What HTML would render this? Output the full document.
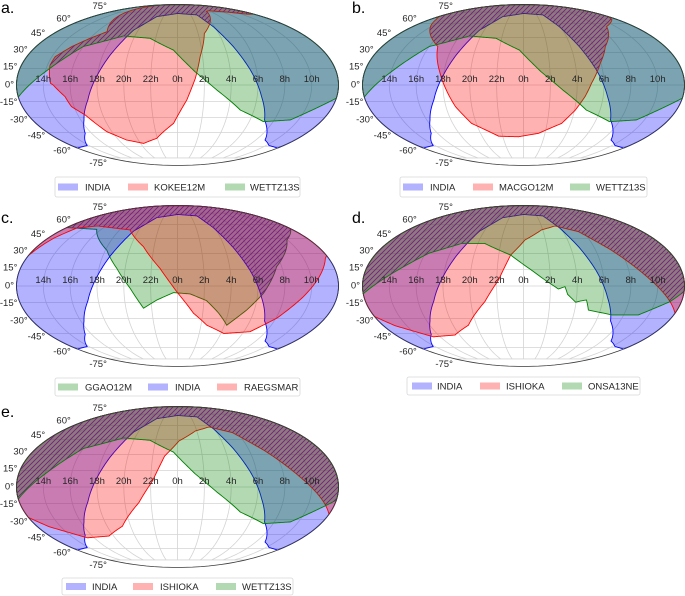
<!DOCTYPE html>
<html><head><meta charset="utf-8">
<style>
html,body{margin:0;padding:0;background:#fff;}
svg{display:block;font-family:"Liberation Sans",Arial,sans-serif;}
</style></head>
<body>
<svg id="fig" width="685" height="596" viewBox="0 0 685 596" xmlns="http://www.w3.org/2000/svg">
<defs>
<pattern id="hatch" patternUnits="userSpaceOnUse" width="5" height="5">
<path d="M-1,1 L1,-1 M0,5 L5,0 M4,6 L6,4" stroke="#7a1a8a" stroke-width="0.9"/>
</pattern>
</defs>
</svg>
<script>
// ---- data: tick labels ----
const hourTickLons = [-150,-120,-90,-60,-30,0,30,60,90,120,150];
const hourTickLabels = ['14h','16h','18h','20h','22h','0h','2h','4h','6h','8h','10h'];
const latTicks = [-75,-60,-45,-30,-15,0,15,30,45,60,75];
const latTickLabels = ['-75°','-60°','-45°','-30°','-15°','0°','15°','30°','45°','60°','75°'];

// ---- data: station visibility regions as [lon, lat] boundary points ----
const indiaRegion = [[-180,-62],[-180,90],[180,90],[180,-62],[155,-59],[134,-52.8],[108,-32.3],[95,-10.6],[83,13.6],[71,35.7],[58,56.6],[44,71],[0,73],[-44,68.7],[-67,52.8],[-81,27.7],[-91,7.6],[-102,-13.6],[-116,-32.3],[-129,-45.7],[-153,-59]];
const kokeeRegion = [[-142,1.5],[-147,18],[-146,26],[-134,36],[-120,44],[-105,51],[-124,66],[-140,80],[-150,90],[180,90],[180,72],[164,72],[130,75],[90,77],[80,76],[39,49],[27,26],[20,6],[10.6,-13.6],[-5,-35.7],[-31,-51],[-55,-56.6],[-78,-52.8],[-97,-44],[-111,-27.7],[-123,-19.8],[-127,-10.6],[-139,0]];
const wettzRegion = [[-180,-11],[-146,15],[-120,35.7],[-76,46.4],[-37.5,44],[-5,32.3],[20,12],[44,-4.5],[74,-23],[108,-34],[140,-32.3],[180,-12],[180,90],[-180,90]];
const macgoRegion = [[-180,69],[-168,65],[-109,35.7],[-95,12.1],[-88,-1.5],[-79,-19.7],[-66,-35.7],[-36,-48.7],[-7.5,-49.3],[21,-45.7],[48.5,-35.7],[61,-22.9],[69.5,-10.6],[76,1.5],[89,19.7],[104,35.7],[135,56.6],[170,65],[180,69],[180,90],[-180,90]];
const ggaoRegion = [[-180,56.6],[-127,54.6],[-88,33],[-69.5,16],[-53,-2],[-39.5,-20.3],[-23.4,-12.7],[-4.5,-6],[14.2,-7.2],[33,-13.3],[49,-25],[63,-36.5],[81,-22],[96.5,-6.6],[114,17.5],[149,43.3],[178,54.6],[180,56],[180,90],[-180,90]];
const raegsmarRegion = [[-180,28],[-172,45],[-162,56],[-135,58.5],[-74,54],[-43.6,36.6],[-20,16],[-1,-5],[19,-25],[37.5,-36.5],[64,-44.8],[98.5,-43],[121,-29.7],[142,-9.7],[176,25.4],[180,28],[180,90],[-180,90]];
const ishiokaRegion = [[-180,-28],[-165,-37],[-130,-48.3],[-96.5,-46.4],[-70.5,-36.5],[-44,-14.2],[-28,5.5],[-15.6,28.5],[2,43.3],[28,54],[53,58.5],[83,52.2],[110,33],[137,10],[167,-14.2],[180,-25],[180,90],[-180,90]];
const onsaRegion = [[-180,-7],[-146,13],[-116,30.2],[-81.5,39.8],[-51,39.8],[-15.6,28.5],[9,14.5],[24,5.5],[39,-2.7],[46.4,-0.6],[49.6,-7.6],[59.6,-14.8],[65,-13.6],[71.5,-12.7],[76,-22],[106,-26.6],[137.5,-26.6],[167,-14.2],[180,-5],[180,90],[-180,90]];

const COL = {blue:'#0000ff', red:'#ff0000', green:'#008000'};

const panels = [
 {key:'a', cx:177.5, cy:85, lx:1, ly:13, legend:{x:55,w:245,y:177,h:20},
  regions:[['INDIA',indiaRegion,'blue',58,85],['KOKEE12M',kokeeRegion,'red',128,154],['WETTZ13S',wettzRegion,'green',225,250]]},
 {key:'b', cx:523.5, cy:85, lx:352, ly:13, legend:{x:400,w:247,y:177,h:20},
  regions:[['INDIA',indiaRegion,'blue',403,430],['MACGO12M',macgoRegion,'red',473,499],['WETTZ13S',wettzRegion,'green',570,596]]},
 {key:'c', cx:177.5, cy:286, lx:1, ly:223, legend:{x:55,w:245,y:378,h:18},
  regions:[['GGAO12M',ggaoRegion,'green',58,85],['INDIA',indiaRegion,'blue',148,175],['RAEGSMAR',raegsmarRegion,'red',217,244]]},
 {key:'d', cx:523.5, cy:286, lx:352, ly:223, legend:{x:407,w:233,y:377,h:18},
  regions:[['INDIA',indiaRegion,'blue',412,437],['ISHIOKA',ishiokaRegion,'red',480,506],['ONSA13NE',onsaRegion,'green',562,588]]},
 {key:'e', cx:177.5, cy:487, lx:1, ly:417, legend:{x:62,w:231,y:578,h:17},
  regions:[['INDIA',indiaRegion,'blue',66,92],['ISHIOKA',ishiokaRegion,'red',133,160],['WETTZ13S',wettzRegion,'green',216,242]]}
];
const RX = 161, RY = 80.5;
const NS = 'http://www.w3.org/2000/svg';
const svg = document.getElementById('fig');
const defs = svg.querySelector('defs');

function mk(tag, attrs, parent){
  const e = document.createElementNS(NS, tag);
  for (const k in attrs) e.setAttribute(k, attrs[k]);
  if (parent) parent.appendChild(e);
  return e;
}
function theta(lat){
  if (Math.abs(lat) >= 89.999) return Math.sign(lat)*Math.PI/2;
  const phi = lat*Math.PI/180;
  let t = phi*2;
  for (let i=0;i<40;i++){
    const d = 1+Math.cos(t);
    if (d < 1e-9) break;
    const dt = (t+Math.sin(t)-Math.PI*Math.sin(phi))/d;
    t -= dt;
    if (Math.abs(dt) < 1e-10) break;
  }
  return t/2;
}
function proj(P, lon, lat){
  const th = theta(lat);
  return [P.cx + RX*(lon/180)*Math.cos(th), P.cy - RY*Math.sin(th)];
}
function pathFor(P, pts, closed){
  let d = '';
  const n = pts.length;
  const segs = closed ? n : n-1;
  for (let i=0;i<segs;i++){
    const a = pts[i], b = pts[(i+1)%n];
    const steps = Math.max(1, Math.ceil(Math.max(Math.abs(b[0]-a[0]), Math.abs(b[1]-a[1]))/1.5));
    for (let s=0;s<steps;s++){
      const f = s/steps;
      const p = proj(P, a[0]+(b[0]-a[0])*f, a[1]+(b[1]-a[1])*f);
      d += (d==='' ? 'M' : 'L') + p[0].toFixed(2) + ',' + p[1].toFixed(2);
    }
  }
  if (!closed){ const p = proj(P, pts[n-1][0], pts[n-1][1]); d += 'L'+p[0].toFixed(2)+','+p[1].toFixed(2); }
  return d + (closed ? 'Z' : '');
}
const outlinePts = [[-180,-90],[-180,90],[180,90],[180,-90]];

panels.forEach(P => {
  const g = mk('g', {}, svg);
  
  
  const ell = pathFor(P, outlinePts, true);
  const bg = mk('path', {d:ell, fill:'#ffffff', stroke:'none'}, g);
  
  
  const grid = mk('g', {stroke:'#d4d4d4', 'stroke-width':'0.8', fill:'none'}, g);
  
  
  latTicks.forEach(lat => {
    const l = mk('path', {d:pathFor(P, [[-180,lat],[180,lat]], false)}, grid);
    
    
  });
  hourTickLons.forEach(lon => {
    const l = mk('path', {d:pathFor(P, [[lon,-75],[lon,75]], false)}, grid);
    
    
  });
  const clipIds = [];
  P.regions.forEach((r, i) => {
    const d = pathFor(P, r[1], true);
    const path = mk('path', {d:d, fill:COL[r[2]], 'fill-opacity':'0.3', stroke:COL[r[2]], 'stroke-width':'0.9', 'stroke-linejoin':'round'}, g);
    
    
    const cp = mk('clipPath', {id:'clip-'+P.key+'-'+i}, defs);
    mk('path', {d:d}, cp);
    clipIds.push('clip-'+P.key+'-'+i);
  });
  const h1 = mk('g', {'clip-path':'url(#'+clipIds[0]+')'}, g);
  const h2 = mk('g', {'clip-path':'url(#'+clipIds[1]+')'}, h1);
  const hp = mk('path', {d:pathFor(P, P.regions[2][1], true), fill:'url(#hatch)', stroke:'none'}, h2);
  
  
  const ol = mk('path', {d:ell, fill:'none', stroke:'#3a3a3a', 'stroke-width':'0.8'}, g);
  
  
  hourTickLons.forEach((lon, i) => {
    const p = proj(P, lon, 0);
    const t = mk('text', {x:p[0].toFixed(1), y:(P.cy-3).toFixed(1), 'text-anchor':'middle', 'font-size':'9.5', fill:'#262626'}, g);
    t.textContent = hourTickLabels[i];
    
    
  });
  latTicks.forEach((lat, i) => {
    const p = proj(P, -180, lat);
    const v = (P.cy - p[1]) / RY;
    const yc = p[1] - 1 - 6*v;
    const t = mk('text', {x:(p[0]-2.5).toFixed(1), y:(yc+3.4).toFixed(1), 'text-anchor':'end', 'font-size':'9.5', fill:'#262626'}, g);
    t.textContent = latTickLabels[i];
    
    
  });
  const lt = mk('text', {x:P.lx, y:P.ly, 'font-size':'16', fill:'#000'}, g);
  lt.textContent = P.key + '.';
  
  
  const L = P.legend;
  const lg = mk('g', {}, g);
  
  
  mk('rect', {x:L.x, y:L.y, width:L.w, height:L.h, rx:2, fill:'#fff', stroke:'#d8d8d8', 'stroke-width':'0.8'}, lg);
  const my = L.y + L.h/2;
  P.regions.forEach(r => {
    const e = mk('g', {}, lg);
    
    
    mk('rect', {x:r[3], y:(my-3.5).toFixed(1), width:20, height:7, fill:COL[r[2]], 'fill-opacity':'0.3'}, e);
    const t = mk('text', {x:r[4], y:(my+3.4).toFixed(1), 'font-size':'9.5', fill:'#262626'}, e);
    t.textContent = r[0];
  });
});
</script>
</body></html>
